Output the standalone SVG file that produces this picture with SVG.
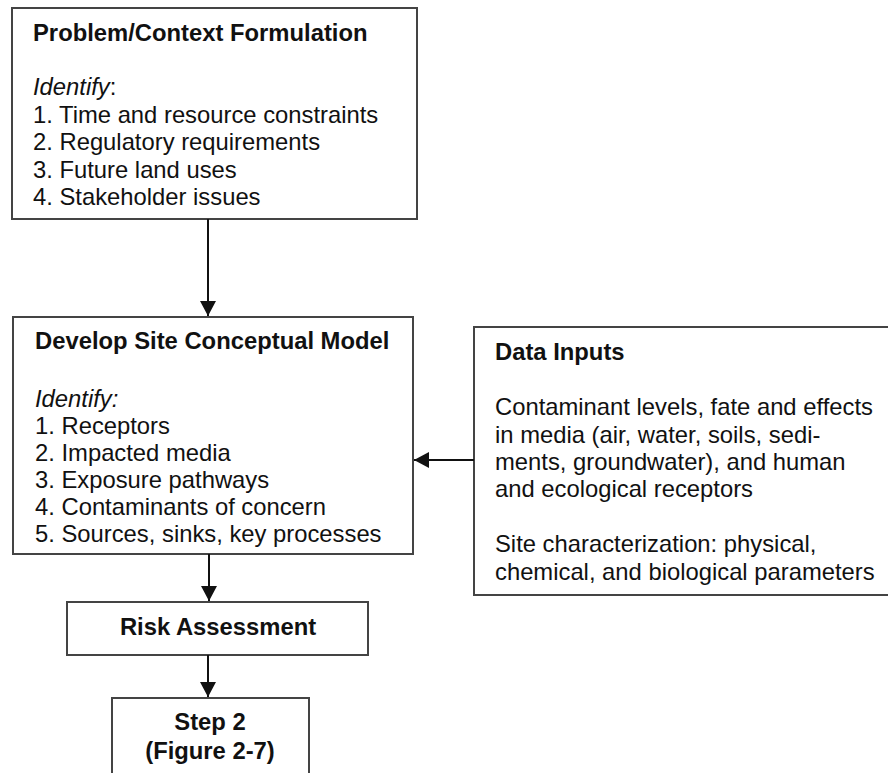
<svg xmlns="http://www.w3.org/2000/svg" width="888" height="773" viewBox="0 0 888 773">
<style>
.box{fill:#fff;stroke:#444;stroke-width:2}
text{font-family:"Liberation Sans",Arial,sans-serif;font-size:23.8px;fill:#111}
.b{font-weight:bold}
.i{font-style:italic}
.c{text-anchor:middle}
.conn line{stroke:#111;stroke-width:2}
</style>
<defs>
<marker id="ah" markerWidth="15" markerHeight="16" refX="15" refY="8" orient="auto" markerUnits="userSpaceOnUse"><path d="M0,0 L15,8 L0,16 Z" fill="#111"/></marker>
</defs>
<rect width="888" height="773" fill="#fff"/>
<g id="problem">
<rect class="box" x="12" y="8" width="405" height="211"/>
<text class="b" x="33" y="41">Problem/Context Formulation</text>
<text x="33" y="95"><tspan class="i">Identify</tspan>:</text>
<text x="33" y="123">1. Time and resource constraints</text>
<text x="33" y="150">2. Regulatory requirements</text>
<text x="33" y="178">3. Future land uses</text>
<text x="33" y="205">4. Stakeholder issues</text>
</g>
<g id="model">
<rect class="box" x="13" y="317" width="400" height="237"/>
<text class="b" x="35" y="349">Develop Site Conceptual Model</text>
<text class="i" x="35" y="407">Identify:</text>
<text x="35" y="434">1. Receptors</text>
<text x="35" y="461">2. Impacted media</text>
<text x="35" y="488">3. Exposure pathways</text>
<text x="35" y="515">4. Contaminants of concern</text>
<text x="35" y="542">5. Sources, sinks, key processes</text>
</g>
<g id="data">
<rect class="box" x="474" y="327" width="420" height="268"/>
<text class="b" x="495" y="360">Data Inputs</text>
<text x="495" y="415">Contaminant levels, fate and effects</text>
<text x="495" y="443">in media (air, water, soils, sedi-</text>
<text x="495" y="470">ments, groundwater), and human</text>
<text x="495" y="497">and ecological receptors</text>
<text x="495" y="552">Site characterization: physical,</text>
<text x="495" y="580">chemical, and biological parameters</text>
</g>
<g id="risk">
<rect class="box" x="67" y="602" width="301" height="53"/>
<text class="b c" x="218" y="635">Risk Assessment</text>
</g>
<g id="step2">
<rect class="box" x="112" y="698" width="197" height="90"/>
<text class="b c" x="210" y="730">Step 2</text>
<text class="b c" x="210" y="759">(Figure 2-7)</text>
</g>
<g class="conn" id="connectors">
<line x1="208" y1="219" x2="208" y2="316" marker-end="url(#ah)"/>
<line x1="474" y1="460" x2="414" y2="460" marker-end="url(#ah)"/>
<line x1="209" y1="554" x2="209" y2="601" marker-end="url(#ah)"/>
<line x1="208" y1="655" x2="208" y2="697" marker-end="url(#ah)"/>
</g>
</svg>
